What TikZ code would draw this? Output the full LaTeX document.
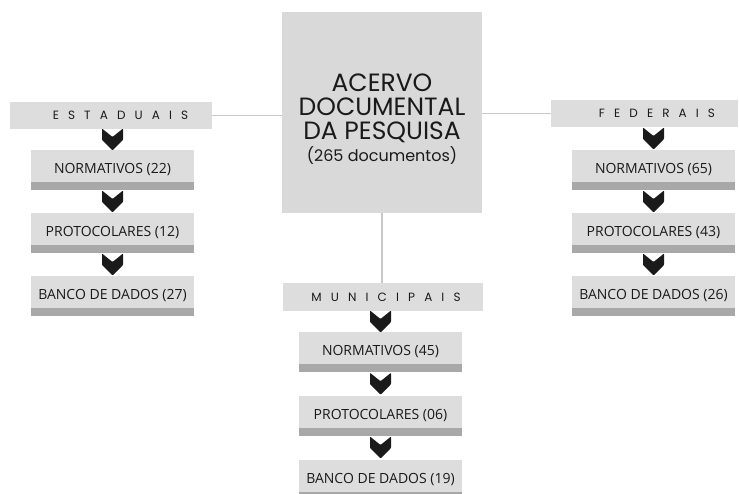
\documentclass[tikz,border=0pt]{standalone}
\usepackage{fontspec}
\usetikzlibrary{calc}
\newfontfamily\titlefont{Poppins}
\newfontfamily\spacedfont[LetterSpace=76]{Poppins}
\newfontfamily\itemfont{Open Sans}
\definecolor{boxgray}{HTML}{DDDDDD}
\definecolor{stripgray}{HTML}{A8A8A8}
\definecolor{centergray}{HTML}{D9D9D9}
\definecolor{linegray}{HTML}{C8C8C8}
\definecolor{textdark}{HTML}{1A1A1A}
\begin{document}
\begin{tikzpicture}[x=1pt, y=-1pt,
    chev/.pic={\fill[textdark, rounded corners=0.8pt] (-10.5,-11) -- (0,-2.5) -- (10.5,-11) -- (10.5,0.5) -- (0,11) -- (-10.5,0.5) -- cycle;}]
	\tikzstyle{header} = [fill=boxgray, minimum height=27pt, inner sep=0pt]
	\tikzstyle{label} = [inner sep=0pt, text=textdark, font=\spacedfont\fontsize{12}{14}\selectfont]
	\tikzstyle{item} = [fill=boxgray, minimum width=163pt, minimum height=40pt, inner sep=0pt, text=textdark,
	  font=\itemfont\fontsize{14}{16}\selectfont,
	  path picture={\fill[stripgray] ([yshift=8pt]path picture bounding box.south west) rectangle (path picture bounding box.south east);}]
	\tikzstyle{link} = [draw=linegray, line width=1.6pt]
	\useasboundingbox (0,0) rectangle (739,494);
	% centre
	\node[fill=centergray, minimum width=200pt, minimum height=201pt](acervo) at (382,112.5) {};
	\node[align=center, inner sep=0pt, text=textdark, font=\titlefont\fontsize{25}{24}\selectfont](title) at (382,119)
	  {ACERVO\\DOCUMENTAL\\DA PESQUISA\\[-2pt]{\fontsize{16}{24}\selectfont(265 documentos)}};
	% estaduais
	\node[header, minimum width=202pt](hE) at (111,115.5) {};
	\node[label](tE) at (120.5,115.5) {ESTADUAIS};
	\node[item](E1) at (112.5,170) {NORMATIVOS (22)};
	\node[item](E2) at (112.5,233) {PROTOCOLARES (12)};
	\node[item](E3) at (112.5,296) {BANCO DE DADOS (27)};
	% federais
	\node[header, minimum width=187pt](hF) at (644.5,113.5) {};
	\node[label](tF) at (657,113.5) {FEDERAIS};
	\node[item](F1) at (653.5,170) {NORMATIVOS (65)};
	\node[item](F2) at (653.5,233) {PROTOCOLARES (43)};
	\node[item](F3) at (653.5,296) {BANCO DE DADOS (26)};
	% municipais
	\node[header, minimum width=200pt, minimum height=28pt](hM) at (383,297) {};
	\node[label](tM) at (386,297) {MUNICIPAIS};
	\node[item](M1) at (380.5,352) {NORMATIVOS (45)};
	\node[item](M2) at (380.5,415.5) {PROTOCOLARES (06)};
	\node[item](M3) at (380.5,479.5) {BANCO DE DADOS (19)};
	% links
	\path[link] (hE.east) -- (hE.east -| acervo.west);
	\path[link] (acervo.east |- hF.west) -- (hF.west);
	\path[link] (acervo.south) -- (acervo.south |- hM.north);
	% chevrons
	\path ($(hE.south -| E1.north)!0.5!(E1.north)$) pic{chev};
	\path ($(E1.south)!0.5!(E2.north)$) pic{chev};
	\path ($(E2.south)!0.5!(E3.north)$) pic{chev};
	\path ($(hF.south -| F1.north)!0.5!(F1.north)$) pic{chev};
	\path ($(F1.south)!0.5!(F2.north)$) pic{chev};
	\path ($(F2.south)!0.5!(F3.north)$) pic{chev};
	\path ($(hM.south -| M1.north)!0.5!(M1.north)$) pic{chev};
	\path ($(M1.south)!0.5!(M2.north)$) pic{chev};
	\path ($(M2.south)!0.5!(M3.north)$) pic{chev};
\end{tikzpicture}
\end{document}
